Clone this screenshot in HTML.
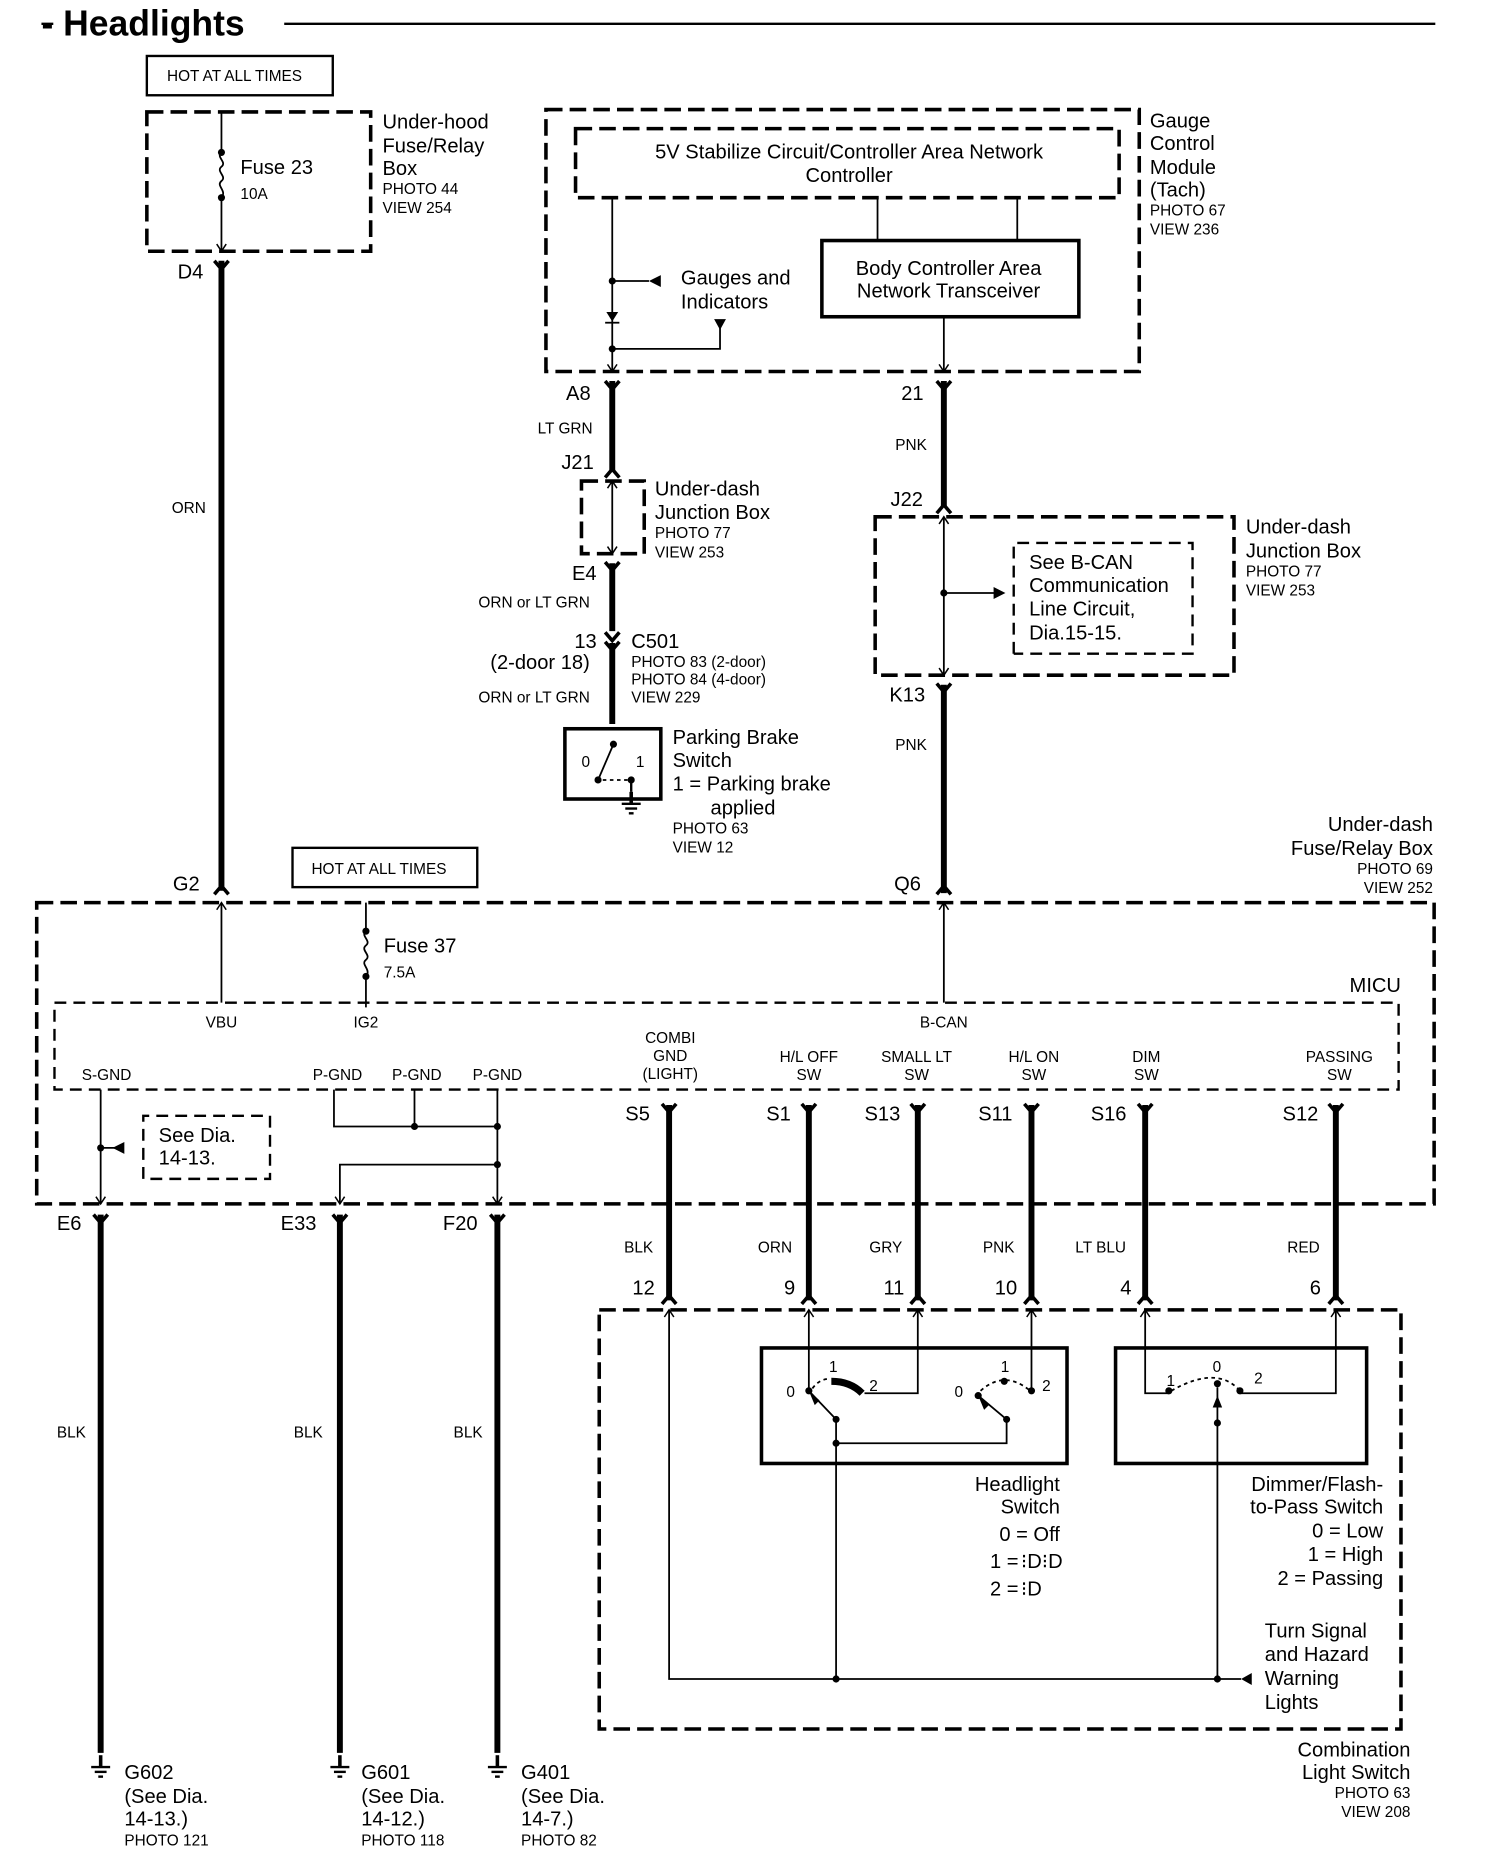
<!DOCTYPE html>
<html><head><meta charset="utf-8"><style>
html,body{margin:0;padding:0;background:#fff}
svg{display:block}
text{font-family:"Liberation Sans",sans-serif;fill:#000}
.l{font-size:17px}
.s{font-size:13px}
.r{text-anchor:end}
.m{text-anchor:middle}
</style></head><body>
<svg width="1504" height="1860" viewBox="0 0 1270 1562" preserveAspectRatio="none" xmlns="http://www.w3.org/2000/svg">
<defs>
<path id="dY" d="M-6,-7 L0,0 L6,-7" fill="none" stroke="#000" stroke-width="3"/>
<path id="uY" d="M-6,7 L0,0 L6,7" fill="none" stroke="#000" stroke-width="3"/>
<path id="da" d="M-4,-6 L0,0 L4,-6" fill="none" stroke="#000" stroke-width="1.3"/>
<path id="ua" d="M-4,6 L0,0 L4,6" fill="none" stroke="#000" stroke-width="1.3"/>
<g id="gnd"><line x1="0" y1="-10" x2="0" y2="0" stroke="#000" stroke-width="3"/><line x1="-8" y1="0" x2="8" y2="0" stroke="#000" stroke-width="2"/><line x1="-5" y1="4" x2="5" y2="4" stroke="#000" stroke-width="2"/><line x1="-2" y1="8" x2="2" y2="8" stroke="#000" stroke-width="2"/></g>
</defs>
<g fill="none" stroke="#000">
<!-- title line -->
<line x1="240" y1="20" x2="1212" y2="20" stroke-width="2"/>
<line x1="35" y1="20" x2="45" y2="20" stroke-width="2"/>
<!-- hot boxes -->
<rect x="124" y="47" width="157" height="33" stroke-width="2"/>
<rect x="247" y="712" width="156" height="33" stroke-width="2"/>
<!-- dashed boxes -->
<g stroke-width="3" stroke-dasharray="14,6">
<rect x="124" y="94" width="189" height="117"/>
<rect x="461" y="92" width="501" height="220"/>
<rect x="486" y="108" width="459" height="58"/>
<rect x="491" y="404" width="53" height="61"/>
<rect x="739" y="434" width="303" height="133"/>
<rect x="31" y="758" width="1180" height="253"/>
<rect x="506" y="1100" width="677" height="352"/>
</g>
<g stroke-width="2" stroke-dasharray="10,6">
<rect x="46" y="842" width="1135" height="73"/>
<path d="M856,549 V456 H1007 V549 H856"/>
<path d="M121,990 V937 H228 V990 H121"/>
</g>
<!-- solid boxes -->
<rect x="694" y="202" width="217" height="64" stroke-width="3"/>
<rect x="477" y="612" width="81" height="59" stroke-width="3"/>
<rect x="643" y="1132" width="258" height="97" stroke-width="3"/>
<rect x="942" y="1132" width="212" height="97" stroke-width="3"/>
<!-- thin lines -->
<g stroke-width="1.5">
<path d="M187,94 V128 M187,166 V211"/>
<path d="M187,128 c-5,4 5,8 0,12 c-5,4 5,8 0,12 c-5,4 5,8 0,14"/>
<path d="M309,758 V782 M309,820 V846"/>
<path d="M309,782 c-5,4 5,8 0,12 c-5,4 5,8 0,12 c-5,4 5,8 0,14"/>
<line x1="187" y1="758" x2="187" y2="842"/>
<line x1="797" y1="758" x2="797" y2="842"/>
<line x1="741" y1="166" x2="741" y2="202"/>
<line x1="859" y1="166" x2="859" y2="202"/>
<line x1="517" y1="166" x2="517" y2="312"/>
<path d="M517,236 H548 M517,293 H608 V275"/>
<line x1="797" y1="266" x2="797" y2="312"/>
<line x1="517" y1="404" x2="517" y2="465"/>
<line x1="797" y1="434" x2="797" y2="567"/>
<line x1="797" y1="498" x2="840" y2="498"/>
<line x1="85" y1="915" x2="85" y2="1011"/>
<line x1="85" y1="964" x2="104" y2="964"/>
<path d="M282,915 V946 H420 M350,915 V946 M420,915 V1011 M420,978 H287 V1011"/>
<path d="M565,1100 V1410 H1048"/>
<path d="M683,1100 V1168 M775,1100 V1170 H730 M871,1100 V1170 M706,1192 V1410 M706,1212 H850 V1192"/>
<path d="M683,1168 L706,1192 M826,1172 L850,1192"/>
<path d="M967,1100 V1170 H987 M1128,1100 V1170 H1047 M1028,1165 V1410"/>
</g>
<path d="M702,1160 Q718,1160 728,1170" stroke-width="6"/>
<g stroke-width="1.5" stroke-dasharray="3,3">
<path d="M686,1166 Q692,1158 700,1158"/>
<path d="M828,1168 Q848,1150 870,1168"/>
<path d="M989,1168 Q1028,1146 1047,1168"/>
<path d="M503,655 H530"/>
</g>
<path d="M505,655 L518,625" stroke-width="1.5"/>
<path d="M533,655 V665" stroke-width="2"/>
<!-- thick wires -->
<g stroke-width="5">
<line x1="187" y1="219" x2="187" y2="748"/>
<line x1="517" y1="320" x2="517" y2="396"/>
<line x1="517" y1="473" x2="517" y2="530"/>
<line x1="517" y1="540" x2="517" y2="608"/>
<line x1="797" y1="320" x2="797" y2="426"/>
<line x1="797" y1="575" x2="797" y2="750"/>
<line x1="85" y1="1020" x2="85" y2="1472"/>
<line x1="287" y1="1020" x2="287" y2="1472"/>
<line x1="420" y1="1020" x2="420" y2="1472"/>
<line x1="565" y1="928" x2="565" y2="1092"/>
<line x1="683" y1="928" x2="683" y2="1092"/>
<line x1="775" y1="928" x2="775" y2="1092"/>
<line x1="871" y1="928" x2="871" y2="1092"/>
<line x1="967" y1="928" x2="967" y2="1092"/>
<line x1="1128" y1="928" x2="1128" y2="1092"/>
</g>
</g>
<!-- connectors -->
<g>
<use href="#da" x="187" y="211"/><use href="#dY" x="187" y="226"/>
<use href="#da" x="517" y="312"/><use href="#dY" x="517" y="327"/>
<use href="#da" x="797" y="312"/><use href="#dY" x="797" y="327"/>
<use href="#uY" x="187" y="744"/><use href="#ua" x="187" y="758"/>
<use href="#uY" x="797" y="744"/><use href="#ua" x="797" y="758"/>
<use href="#uY" x="517" y="394"/><use href="#ua" x="517" y="404"/>
<use href="#uY" x="797" y="424"/><use href="#ua" x="797" y="434"/>
<use href="#da" x="517" y="465"/><use href="#dY" x="517" y="479"/>
<use href="#da" x="797" y="567"/><use href="#dY" x="797" y="581"/>
<use href="#dY" x="517" y="538"/><use href="#dY" x="517" y="546"/>
<use href="#da" x="85" y="1011"/><use href="#dY" x="85" y="1027"/>
<use href="#da" x="287" y="1011"/><use href="#dY" x="287" y="1027"/>
<use href="#da" x="420" y="1011"/><use href="#dY" x="420" y="1027"/>
<use href="#dY" x="565" y="934"/><use href="#dY" x="683" y="934"/><use href="#dY" x="775" y="934"/><use href="#dY" x="871" y="934"/><use href="#dY" x="967" y="934"/><use href="#dY" x="1128" y="934"/>
<use href="#uY" x="565" y="1088"/><use href="#uY" x="683" y="1088"/><use href="#uY" x="775" y="1088"/><use href="#uY" x="871" y="1088"/><use href="#uY" x="967" y="1088"/><use href="#uY" x="1128" y="1088"/>
<use href="#ua" x="565" y="1100"/><use href="#ua" x="683" y="1100"/><use href="#ua" x="775" y="1100"/><use href="#ua" x="871" y="1100"/><use href="#ua" x="967" y="1100"/><use href="#ua" x="1128" y="1100"/>
<use href="#gnd" x="85" y="1484"/><use href="#gnd" x="287" y="1484"/><use href="#gnd" x="420" y="1484"/>
<use href="#gnd" x="533" y="675"/>
</g>
<!-- dots & arrows -->
<g fill="#000">
<circle cx="187" cy="128" r="3"/><circle cx="187" cy="166" r="3"/>
<circle cx="309" cy="782" r="3"/><circle cx="309" cy="820" r="3"/>
<circle cx="517" cy="236" r="3"/><circle cx="517" cy="293" r="3"/>
<polygon points="548,236 558,231 558,241"/>
<polygon points="603,268 613,268 608,277"/>
<polygon points="512,262 522,262 517,270"/><line x1="511" y1="271" x2="523" y2="271" stroke="#000" stroke-width="1.5"/>
<circle cx="797" cy="498" r="3"/><polygon points="849,498 839,493 839,503"/>
<circle cx="85" cy="964" r="3"/><polygon points="95,964 105,959 105,969"/>
<circle cx="350" cy="946" r="3"/><circle cx="420" cy="946" r="3"/><circle cx="420" cy="978" r="3"/>
<circle cx="706" cy="1410" r="3"/><circle cx="1028" cy="1410" r="3"/>
<polygon points="1048,1410 1057,1405 1057,1415"/>
<circle cx="683" cy="1168" r="3"/><circle cx="706" cy="1192" r="3"/><circle cx="706" cy="1212" r="3"/>
<circle cx="826" cy="1172" r="3"/><circle cx="850" cy="1192" r="3"/><circle cx="871" cy="1168" r="3"/><circle cx="848" cy="1160" r="3"/>
<circle cx="987" cy="1168" r="3"/><circle cx="1028" cy="1162" r="3"/><circle cx="1047" cy="1168" r="3"/><circle cx="1028" cy="1195" r="3"/>
<polygon points="1028,1172 1024,1182 1032,1182"/>
<polygon points="683,1168 688,1180 692,1176"/><polygon points="826,1172 831,1184 835,1180"/>
<circle cx="505" cy="655" r="3"/><circle cx="518" cy="625" r="3"/><circle cx="533" cy="655" r="3"/>
</g>
<!-- text -->
<text x="35" y="30" style="font-size:30px;font-weight:bold">- Headlights</text>
<text x="141" y="68" class="s">HOT AT ALL TIMES</text>
<text x="263" y="734" class="s">HOT AT ALL TIMES</text>
<text x="203" y="146" class="l">Fuse 23</text><text x="203" y="167" class="s">10A</text>
<text x="323" y="108" class="l">Under-hood</text><text x="323" y="128" class="l">Fuse/Relay</text><text x="323" y="147" class="l">Box</text>
<text x="323" y="163" class="s">PHOTO 44</text><text x="323" y="179" class="s">VIEW 254</text>
<text x="150" y="234" class="l">D4</text>
<text x="145" y="431" class="s">ORN</text>
<text x="717" y="133" class="l m">5V Stabilize Circuit/Controller Area Network</text>
<text x="717" y="153" class="l m">Controller</text>
<text x="801" y="231" class="l m">Body Controller Area</text>
<text x="801" y="250" class="l m">Network Transceiver</text>
<text x="575" y="239" class="l">Gauges and</text><text x="575" y="259" class="l">Indicators</text>
<text x="971" y="107" class="l">Gauge</text><text x="971" y="126" class="l">Control</text><text x="971" y="146" class="l">Module</text><text x="971" y="165" class="l">(Tach)</text>
<text x="971" y="181" class="s">PHOTO 67</text><text x="971" y="197" class="s">VIEW 236</text>
<text x="478" y="336" class="l">A8</text><text x="454" y="364" class="s">LT GRN</text>
<text x="474" y="394" class="l">J21</text>
<text x="553" y="416" class="l">Under-dash</text><text x="553" y="436" class="l">Junction Box</text>
<text x="553" y="452" class="s">PHOTO 77</text><text x="553" y="468" class="s">VIEW 253</text>
<text x="483" y="487" class="l">E4</text><text x="404" y="510" class="s">ORN or LT GRN</text>
<text x="485" y="544" class="l">13</text><text x="414" y="562" class="l">(2-door 18)</text>
<text x="533" y="544" class="l">C501</text>
<text x="533" y="560" class="s">PHOTO 83 (2-door)</text><text x="533" y="575" class="s">PHOTO 84 (4-door)</text><text x="533" y="590" class="s">VIEW 229</text>
<text x="404" y="590" class="s">ORN or LT GRN</text>
<text x="491" y="644" class="s">0</text><text x="537" y="644" class="s">1</text>
<text x="568" y="625" class="l">Parking Brake</text><text x="568" y="644" class="l">Switch</text>
<text x="568" y="664" class="l">1 = Parking brake</text><text x="600" y="684" class="l">applied</text>
<text x="568" y="700" class="s">PHOTO 63</text><text x="568" y="716" class="s">VIEW 12</text>
<text x="761" y="336" class="l">21</text><text x="756" y="378" class="s">PNK</text>
<text x="752" y="425" class="l">J22</text>
<text x="869" y="478" class="l">See B-CAN</text><text x="869" y="497" class="l">Communication</text><text x="869" y="517" class="l">Line Circuit,</text><text x="869" y="537" class="l">Dia.15-15.</text>
<text x="1052" y="448" class="l">Under-dash</text><text x="1052" y="468" class="l">Junction Box</text>
<text x="1052" y="484" class="s">PHOTO 77</text><text x="1052" y="500" class="s">VIEW 253</text>
<text x="751" y="589" class="l">K13</text><text x="756" y="630" class="s">PNK</text>
<text x="1210" y="698" class="l r">Under-dash</text><text x="1210" y="718" class="l r">Fuse/Relay Box</text>
<text x="1210" y="734" class="s r">PHOTO 69</text><text x="1210" y="750" class="s r">VIEW 252</text>
<text x="146" y="748" class="l">G2</text><text x="755" y="748" class="l">Q6</text>
<text x="324" y="800" class="l">Fuse 37</text><text x="324" y="821" class="s">7.5A</text>
<text x="1183" y="833" class="l r">MICU</text>
<text x="187" y="863" class="s m">VBU</text><text x="309" y="863" class="s m">IG2</text><text x="797" y="863" class="s m">B-CAN</text>
<text x="90" y="907" class="s m">S-GND</text><text x="285" y="907" class="s m">P-GND</text><text x="352" y="907" class="s m">P-GND</text><text x="420" y="907" class="s m">P-GND</text>
<text x="566" y="876" class="s m">COMBI</text><text x="566" y="891" class="s m">GND</text><text x="566" y="906" class="s m">(LIGHT)</text>
<text x="683" y="892" class="s m">H/L OFF</text><text x="683" y="907" class="s m">SW</text>
<text x="774" y="892" class="s m">SMALL LT</text><text x="774" y="907" class="s m">SW</text>
<text x="873" y="892" class="s m">H/L ON</text><text x="873" y="907" class="s m">SW</text>
<text x="968" y="892" class="s m">DIM</text><text x="968" y="907" class="s m">SW</text>
<text x="1131" y="892" class="s m">PASSING</text><text x="1131" y="907" class="s m">SW</text>
<text x="134" y="959" class="l">See Dia.</text><text x="134" y="978" class="l">14-13.</text>
<text x="48" y="1033" class="l">E6</text><text x="237" y="1033" class="l">E33</text><text x="374" y="1033" class="l">F20</text>
<text x="528" y="941" class="l">S5</text><text x="647" y="941" class="l">S1</text><text x="730" y="941" class="l">S13</text><text x="826" y="941" class="l">S11</text><text x="921" y="941" class="l">S16</text><text x="1083" y="941" class="l">S12</text>
<text x="527" y="1052" class="s">BLK</text><text x="640" y="1052" class="s">ORN</text><text x="734" y="1052" class="s">GRY</text><text x="830" y="1052" class="s">PNK</text><text x="908" y="1052" class="s">LT BLU</text><text x="1087" y="1052" class="s">RED</text>
<text x="534" y="1087" class="l">12</text><text x="662" y="1087" class="l">9</text><text x="746" y="1087" class="l">11</text><text x="840" y="1087" class="l">10</text><text x="946" y="1087" class="l">4</text><text x="1106" y="1087" class="l">6</text>
<text x="48" y="1207" class="s">BLK</text><text x="248" y="1207" class="s">BLK</text><text x="383" y="1207" class="s">BLK</text>
<text x="664" y="1173" class="s">0</text><text x="700" y="1152" class="s">1</text><text x="734" y="1168" class="s">2</text>
<text x="806" y="1173" class="s">0</text><text x="845" y="1152" class="s">1</text><text x="880" y="1168" class="s">2</text>
<text x="985" y="1164" class="s">1</text><text x="1024" y="1152" class="s">0</text><text x="1059" y="1162" class="s">2</text>
<text x="895" y="1252" class="l r">Headlight</text><text x="895" y="1271" class="l r">Switch</text>
<text x="895" y="1294" class="l r">0 = Off</text>
<text x="836" y="1317" class="l">1 =</text><text x="862" y="1317" class="l">⁝D⁝D</text>
<text x="836" y="1340" class="l">2 =</text><text x="862" y="1340" class="l">⁝D</text>
<text x="1168" y="1252" class="l r">Dimmer/Flash-</text><text x="1168" y="1271" class="l r">to-Pass Switch</text>
<text x="1168" y="1291" class="l r">0 = Low</text><text x="1168" y="1311" class="l r">1 = High</text><text x="1168" y="1331" class="l r">2 = Passing</text>
<text x="1068" y="1375" class="l">Turn Signal</text><text x="1068" y="1395" class="l">and Hazard</text><text x="1068" y="1415" class="l">Warning</text><text x="1068" y="1435" class="l">Lights</text>
<text x="1191" y="1475" class="l r">Combination</text><text x="1191" y="1494" class="l r">Light Switch</text>
<text x="1191" y="1510" class="s r">PHOTO 63</text><text x="1191" y="1526" class="s r">VIEW 208</text>
<text x="105" y="1494" class="l">G602</text><text x="105" y="1514" class="l">(See Dia.</text><text x="105" y="1533" class="l">14-13.)</text><text x="105" y="1550" class="s">PHOTO 121</text>
<text x="305" y="1494" class="l">G601</text><text x="305" y="1514" class="l">(See Dia.</text><text x="305" y="1533" class="l">14-12.)</text><text x="305" y="1550" class="s">PHOTO 118</text>
<text x="440" y="1494" class="l">G401</text><text x="440" y="1514" class="l">(See Dia.</text><text x="440" y="1533" class="l">14-7.)</text><text x="440" y="1550" class="s">PHOTO 82</text>
</svg>
</body></html>
